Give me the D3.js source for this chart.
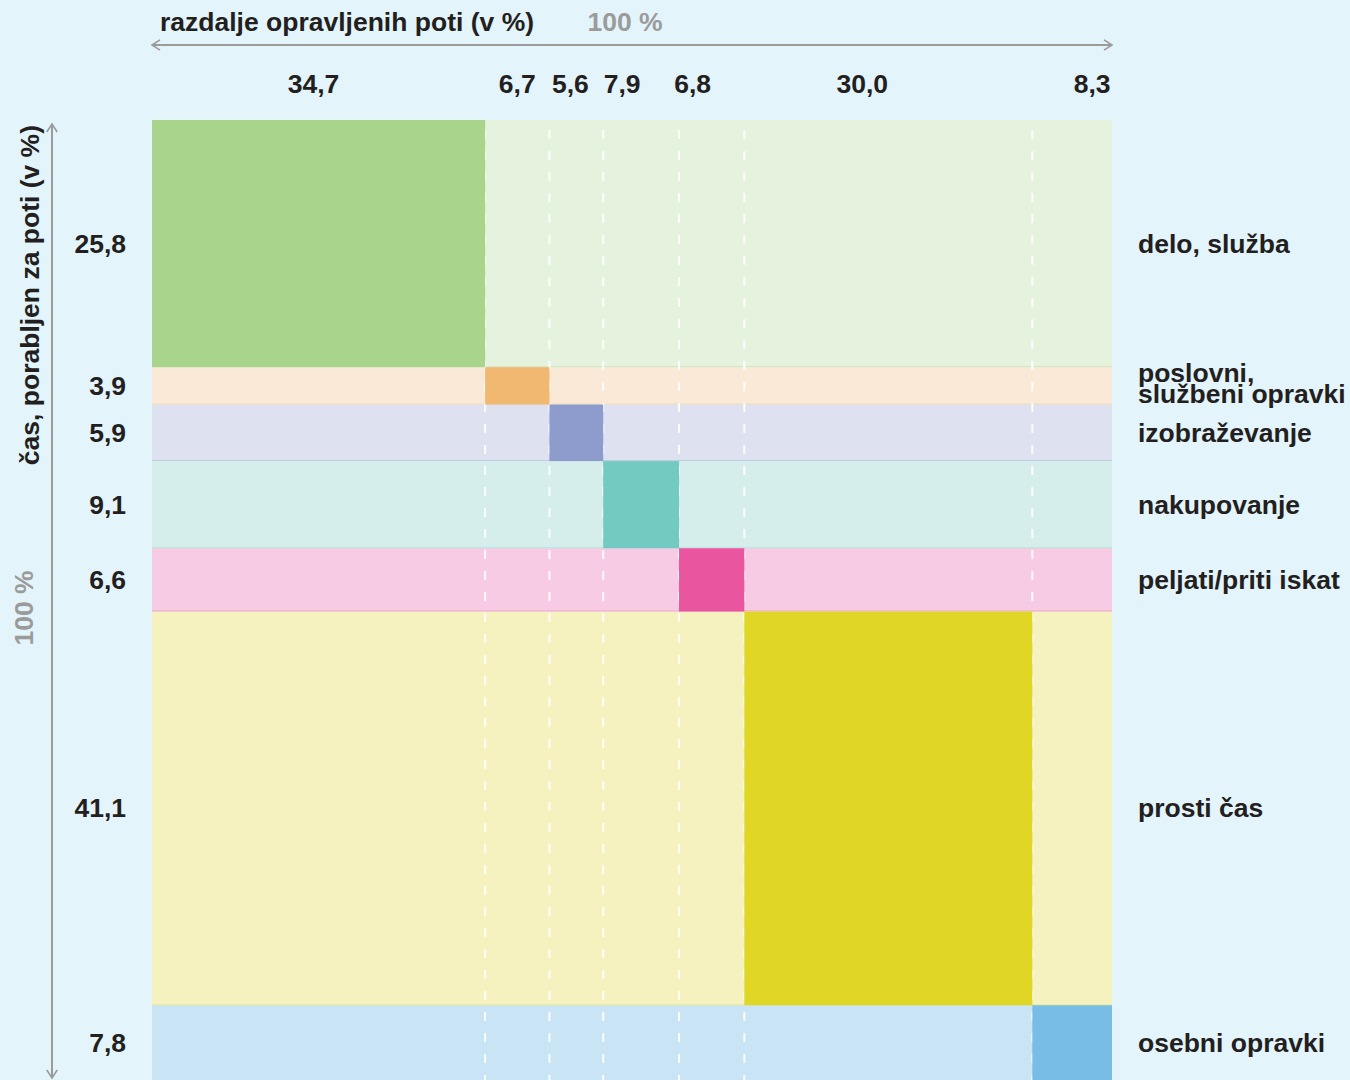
<!DOCTYPE html>
<html>
<head>
<meta charset="utf-8">
<script src="https://cdn.jsdelivr.net/npm/d3@7"></script>
<style>
  body { margin: 0; background: #e3f4fb; }
  text { font-family: "Liberation Sans", Arial, sans-serif; font-weight: bold; }
</style>
</head>
<body>
<div id="chart"></div>
<script>
// Trip purposes (rows and columns share the same order)
var purposes = [
  "delo, služba",
  "poslovni,|službeni opravki",
  "izobraževanje",
  "nakupovanje",
  "peljati/priti iskat",
  "prosti čas",
  "osebni opravki"
];

// Share of distance travelled (v %) -> column widths
var distanceShare = [34.7, 6.7, 5.6, 7.9, 6.8, 30.0, 8.3];
var distanceLabels = ["34,7", "6,7", "5,6", "7,9", "6,8", "30,0", "8,3"];

// Share of time spent (v %) -> row heights
var timeShare = [25.8, 3.9, 5.9, 9.1, 6.6, 41.1, 7.8];
var timeLabels = ["25,8", "3,9", "5,9", "9,1", "6,6", "41,1", "7,8"];

// Colours per purpose: strong for the diagonal cell, pale for the row band
var darkColors = ["#a9d48c", "#f0b870", "#8e9bcd", "#72cac1", "#e9559e", "#e0d626", "#78bde5"];
var lightColors = ["#e5f2de", "#fae9d6", "#dde1f0", "#d5eeeb", "#f7cbe3", "#f5f2c0", "#c8e4f5"];

// Small manual nudges of the top labels (layout only)
var topLabelNudge = [-5, 0, -6, -19, -19, -26, 20];

// SVG dimensions
var svgWidth = 1350;
var svgHeight = 1080;
var fontSize = 26.5;

// Plot area
var plot = { left: 152, right: 1112, top: 120, bottom: 1080 };

var svg = d3
  .select("#chart")
  .append("svg")
  .attr("width", svgWidth)
  .attr("height", svgHeight);

svg.append("rect")
  .attr("width", svgWidth)
  .attr("height", svgHeight)
  .attr("fill", "#e3f4fb");

// cumulative start/end for columns and rows
function cumulative(values) {
  var out = [];
  var acc = 0;
  values.forEach((v) => {
    out.push([acc, acc + v]);
    acc += v;
  });
  return out;
}

var cols = cumulative(distanceShare);
var rows = cumulative(timeShare);

var xScale = d3.scaleLinear()
  .domain([0, d3.sum(distanceShare)])
  .range([plot.left, plot.right]);

var yScale = d3.scaleLinear()
  .domain([0, d3.sum(timeShare)])
  .range([plot.top, plot.bottom]);

var grid = svg.append("g");

// Pale row bands
grid.selectAll(".band")
  .data(rows)
  .enter()
  .append("rect")
  .attr("x", xScale(0))
  .attr("y", (d) => yScale(d[0]))
  .attr("width", xScale.range()[1] - xScale.range()[0])
  .attr("height", (d) => yScale(d[1]) - yScale(d[0]))
  .attr("fill", (d, i) => lightColors[i]);

// thin separator at the bottom of each band
grid.selectAll(".sep")
  .data(rows.slice(0, -1))
  .enter()
  .append("line")
  .attr("x1", xScale(0))
  .attr("x2", xScale.range()[1])
  .attr("y1", (d) => yScale(d[1]) - 0.5)
  .attr("y2", (d) => yScale(d[1]) - 0.5)
  .attr("stroke", (d, i) => darkColors[i])
  .attr("stroke-opacity", 0.35)
  .attr("stroke-width", 1);

// Dashed white column boundaries
grid.selectAll(".dash")
  .data(cols.slice(0, -1))
  .enter()
  .append("line")
  .attr("x1", (d) => xScale(d[1]))
  .attr("x2", (d) => xScale(d[1]))
  .attr("y1", yScale(0) + 10)
  .attr("y2", plot.bottom)
  .attr("stroke", "#ffffff")
  .attr("stroke-opacity", 0.9)
  .attr("stroke-width", 2)
  .attr("stroke-dasharray", "9,12");

// Strong diagonal cells
grid.selectAll(".cell")
  .data(purposes)
  .enter()
  .append("rect")
  .attr("x", (d, i) => xScale(cols[i][0]))
  .attr("y", (d, i) => yScale(rows[i][0]))
  .attr("width", (d, i) => xScale(cols[i][1]) - xScale(cols[i][0]))
  .attr("height", (d, i) => yScale(rows[i][1]) - yScale(rows[i][0]))
  .attr("fill", (d, i) => darkColors[i]);

// Column value labels
svg.selectAll(".colLabel")
  .data(distanceLabels)
  .enter()
  .append("text")
  .attr("x", (d, i) => (xScale(cols[i][0]) + xScale(cols[i][1])) / 2 + topLabelNudge[i])
  .attr("y", 93)
  .attr("text-anchor", "middle")
  .attr("font-size", fontSize)
  .attr("fill", "#231f20")
  .text((d) => d);

// Row value labels (left)
svg.selectAll(".rowLabel")
  .data(timeLabels)
  .enter()
  .append("text")
  .attr("x", 126)
  .attr("y", (d, i) => (yScale(rows[i][0]) + yScale(rows[i][1])) / 2 + 9)
  .attr("text-anchor", "end")
  .attr("font-size", fontSize)
  .attr("fill", "#231f20")
  .text((d) => d);

// Purpose names (right)
svg.selectAll(".purpose")
  .data(purposes)
  .enter()
  .append("text")
  .attr("x", 1138)
  .attr("y", (d, i) => {
    var mid = (yScale(rows[i][0]) + yScale(rows[i][1])) / 2 + 9;
    return d.indexOf("|") >= 0 ? mid - 13 : mid;
  })
  .attr("font-size", fontSize)
  .attr("fill", "#231f20")
  .each(function (d) {
    var parts = d.split("|");
    var el = d3.select(this);
    parts.forEach((p, k) => {
      el.append("tspan")
        .attr("x", 1138)
        .attr("dy", k === 0 ? 0 : 21)
        .text(p);
    });
  });

// Axis arrows
var axisColor = "#9b9b9b";

function arrowLine(x1, y1, x2, y2) {
  svg.append("line")
    .attr("x1", x1).attr("y1", y1)
    .attr("x2", x2).attr("y2", y2)
    .attr("stroke", axisColor)
    .attr("stroke-width", 2);
}

function chevron(x, y, dir) {
  var s = 8;
  var pts;
  if (dir === "left") pts = [[x + s, y - s * 0.65], [x, y], [x + s, y + s * 0.65]];
  if (dir === "right") pts = [[x - s, y - s * 0.65], [x, y], [x - s, y + s * 0.65]];
  if (dir === "up") pts = [[x - s * 0.65, y + s], [x, y], [x + s * 0.65, y + s]];
  if (dir === "down") pts = [[x - s * 0.65, y - s], [x, y], [x + s * 0.65, y - s]];
  svg.append("path")
    .attr("d", d3.line()(pts))
    .attr("fill", "none")
    .attr("stroke", axisColor)
    .attr("stroke-width", 1.6);
}

// horizontal: distance
arrowLine(plot.left, 45, plot.right, 45);
chevron(plot.left, 45, "left");
chevron(plot.right, 45, "right");

// vertical: time
arrowLine(52, 124, 52, 1078);
chevron(52, 124, "up");
chevron(52, 1078, "down");

// Axis titles
svg.append("text")
  .attr("x", 160)
  .attr("y", 31)
  .attr("font-size", fontSize)
  .attr("fill", "#231f20")
  .text("razdalje opravljenih poti (v %)");

svg.append("text")
  .attr("x", 625)
  .attr("y", 31)
  .attr("text-anchor", "middle")
  .attr("font-size", fontSize)
  .attr("fill", "#9b9b9b")
  .text("100 %");

svg.append("text")
  .attr("transform", "translate(39, 125) rotate(-90)")
  .attr("text-anchor", "end")
  .attr("font-size", fontSize)
  .attr("fill", "#231f20")
  .text("čas, porabljen za poti (v %)");

svg.append("text")
  .attr("transform", "translate(33, 608) rotate(-90)")
  .attr("text-anchor", "middle")
  .attr("font-size", fontSize)
  .attr("fill", "#9b9b9b")
  .text("100 %");
</script>
</body>
</html>
